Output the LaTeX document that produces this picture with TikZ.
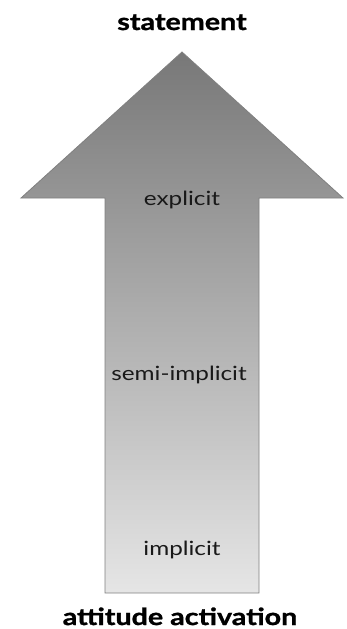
\documentclass[tikz,border=0pt]{standalone}
\usepackage{fontspec}
\setmainfont{Lato}
\newfontfamily\lblfont[FakeStretch=1.24]{Lato}
\newfontfamily\ttlfont[FakeStretch=1.22,FakeBold=1.2]{Lato}
\begin{document}
\begin{tikzpicture}[x=1pt,y=-1pt,
  lbl/.style={font=\lblfont\fontsize{19.6}{22}\selectfont, text=black!90, inner sep=0pt, anchor=base},
  ttl/.style={font=\ttlfont\fontsize{23.5}{27}\selectfont\bfseries, text=black, inner sep=0pt, anchor=base}]
\useasboundingbox (0,0) rectangle (347,629);
\coordinate (tip) at (182,52);
\coordinate (hl) at (21,198);
\coordinate (hr) at (343,198);
\coordinate (sl) at (105,198);
\coordinate (sr) at (259,198);
\coordinate (bl) at (105,593);
\coordinate (br) at (259,593);
\shade[top color=black!53, bottom color=black!10, draw=black!50, line width=0.8pt, line join=miter]
  (tip) -- (hr) -- (sr) -- (br) -- (bl) -- (sl) -- (hl) -- cycle;
\node[ttl] (st) at (182,30) {statement};
\node[ttl] (aa) at (180,625) {attitude activation};
\node[lbl] (ex) at (182,205) {explicit};
\node[lbl] (si) at (179,380) {semi-implicit};
\node[lbl] (im) at (182,555) {implicit};
\end{tikzpicture}
\end{document}
